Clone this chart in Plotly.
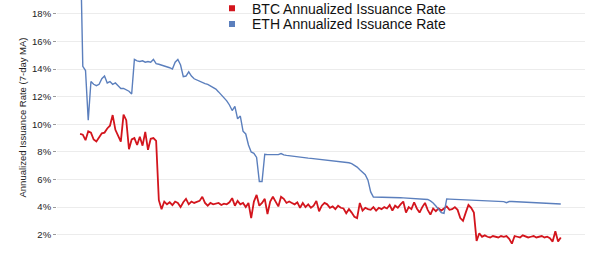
import pandas as pd
import plotly.graph_objects as go

# Data: 7-day MA annualized issuance rate (%), sampled every 12 days from ETH genesis
start_date = "2015-07-30"
n_points = 178
dates = pd.date_range(start_date, periods=n_points, freq="12D")

btc_rate = [
    9.3, 9.25, 8.85, 9.5, 9.4, 8.9, 8.75, 9.1, 9.35, 9.4,
    9.7, 9.9, 10.67, 9.6, 9.2, 8.75, 10.7, 10.3, 8.2, 8.9,
    9.0, 8.5, 9.1, 8.45, 9.45, 8.15, 8.95, 9.0, 8.8, 4.5,
    3.85, 4.4, 4.2, 4.35, 4.15, 4.4, 4.3, 4.0, 4.35, 4.6,
    4.2, 4.4, 4.3, 4.4, 4.45, 4.75, 4.3, 4.1, 4.3, 4.2,
    4.25, 4.3, 4.15, 4.25, 4.2, 4.35, 4.65, 4.1, 4.45, 4.2,
    4.3, 4.0, 4.3, 3.2, 4.4, 4.88, 4.1, 4.3, 4.6, 3.5,
    4.4, 4.75, 4.4, 4.05, 4.75, 4.6, 4.3, 4.4, 4.3, 4.2,
    4.35, 3.95, 4.3, 4.0, 4.2, 3.95, 4.1, 4.45, 3.7, 4.1,
    4.3, 4.2, 3.95, 4.05, 3.85, 4.1, 3.95, 3.9, 3.55, 3.85,
    3.6, 3.3, 3.2, 4.3, 3.75, 3.95, 3.85, 3.8, 4.0, 3.75,
    3.95, 3.85, 4.0, 3.9, 4.15, 3.75, 4.1, 3.95, 4.2, 4.4,
    3.6, 4.0, 3.85, 4.35, 3.9, 3.6, 4.0, 4.3, 3.8, 3.45,
    3.9, 3.7, 3.9, 3.75, 3.9, 4.05, 3.8, 3.85, 4.0, 3.8,
    3.2, 3.0, 3.6, 4.15, 3.95, 3.6, 1.55, 2.1, 1.85, 1.95,
    1.85, 1.8, 1.9, 1.85, 1.8, 1.9, 1.85, 1.9, 1.7, 1.35,
    1.9, 1.85, 1.8, 1.95, 1.85, 1.8, 1.85, 1.9, 1.8, 1.85,
    1.9, 1.8, 1.85, 1.75, 1.5, 2.25, 1.5, 1.8,
]

eth_rate = [
    24.0, 14.2, 13.9, 10.3, 13.1, 12.9, 12.8, 12.9, 13.3, 13.5,
    13.0, 13.1, 12.9, 13.0, 12.8, 12.6, 12.6, 12.5, 12.4, 12.2,
    14.7, 14.6, 14.55, 14.6, 14.5, 14.55, 14.5, 14.7, 14.4, 14.35,
    14.3, 14.2, 14.2, 14.1, 14.0, 14.5, 14.7, 14.3, 13.45, 13.5,
    13.8, 13.5, 13.3, 13.2, 13.15, 13.05, 12.95, 12.9, 12.8, 12.7,
    12.55, 12.35, 12.15, 11.95, 11.7, 11.4, 11.0, 11.3, 10.4, 10.6,
    9.5, 9.3, 8.5, 8.0, 7.9, 7.6, 5.85, 5.85, 7.83, 7.8,
    7.8, 7.8, 7.78, 7.8, 7.88, 7.78, 7.75, 7.72, 7.68, 7.66,
    7.63, 7.61, 7.59, 7.57, 7.55, 7.53, 7.51, 7.49, 7.47, 7.45,
    7.43, 7.41, 7.39, 7.37, 7.35, 7.33, 7.31, 7.28, 7.25, 7.21,
    7.15, 7.05, 6.9, 6.7, 6.55, 6.35, 5.95, 5.1, 4.73, 4.73,
    4.72, 4.72, 4.71, 4.71, 4.70, 4.70, 4.69, 4.68, 4.68, 4.67,
    4.66, 4.65, 4.64, 4.63, 4.62, 4.61, 4.60, 4.58, 4.55, 4.45,
    4.3, 4.08, 3.8, 3.6, 3.55, 4.59, 4.58, 4.57, 4.56, 4.55,
    4.55, 4.54, 4.53, 4.53, 4.52, 4.51, 4.51, 4.50, 4.49, 4.49,
    4.48, 4.47, 4.46, 4.45, 4.44, 4.43, 4.40, 4.32, 4.40, 4.40,
    4.39, 4.38, 4.37, 4.36, 4.35, 4.34, 4.33, 4.32, 4.31, 4.30,
    4.29, 4.28, 4.27, 4.26, 4.25, 4.24, 4.23, 4.22,
]

series_names = ["BTC Annualized Issuance Rate", "ETH Annualized Issuance Rate"]
y_title = "Annualized Issuance Rate (7-day MA)"

BTC_COLOR = "#d3151d"
ETH_COLOR = "#5b7fbd"
FONT = "Liberation Sans, Arial, Helvetica, sans-serif"

fig = go.Figure()
fig.add_trace(go.Scatter(x=dates, y=btc_rate, mode="lines",
                         line=dict(color=BTC_COLOR, width=1.8),
                         showlegend=False, name=series_names[0]))
fig.add_trace(go.Scatter(x=dates, y=eth_rate, mode="lines",
                         line=dict(color=ETH_COLOR, width=1.4),
                         showlegend=False, name=series_names[1]))
# legend entries (square swatches)
fig.add_trace(go.Scatter(x=[None], y=[None], mode="markers",
                         marker=dict(symbol="square", size=6, color=BTC_COLOR),
                         name=series_names[0], legend="legend"))
fig.add_trace(go.Scatter(x=[None], y=[None], mode="markers",
                         marker=dict(symbol="square", size=6, color=ETH_COLOR),
                         name=series_names[1], legend="legend2"))

W, H = 600, 254
L, R = 57, 15
plot_w = W - L - R

def px_to_paper_x(px):
    return (px - L) / plot_w

legend_common = dict(font=dict(family=FONT, size=14, color="#111111"),
                     bgcolor="rgba(0,0,0,0)", borderwidth=0,
                     xanchor="left", yanchor="middle",
                     xref="container", yref="container",
                     itemwidth=30, tracegroupgap=0)

fig.update_layout(
    width=W, height=H,
    margin=dict(l=L, r=R, t=0, b=0, pad=0, autoexpand=False),
    paper_bgcolor="white", plot_bgcolor="white",
    font=dict(family=FONT, size=9.5, color="#222222"),
    legend=dict(x=(252 - 40) / W, y=1 - 8.6 / H, **legend_common),
    legend2=dict(x=(252 - 40) / W, y=1 - 24.4 / H, **legend_common),
    xaxis=dict(range=["2015-04-19", "2021-09-07"], showticklabels=False,
               showgrid=False, zeroline=False, showline=False, ticks=""),
    yaxis=dict(range=[0.60, 19.01], dtick=2, tick0=0, ticksuffix="%",
               showgrid=True, gridcolor="#ececec", gridwidth=1,
               zeroline=False, showline=False,
               ticks="outside", ticklen=3, tickcolor="#9a9a9a",
               tickfont=dict(family=FONT, size=9.5, color="#222222")),
    annotations=[dict(text=y_title, textangle=-90, showarrow=False,
                      xref="paper", yref="paper",
                      x=px_to_paper_x(22), y=1 - 117.5 / H,
                      xanchor="center", yanchor="middle",
                      font=dict(family=FONT, size=9.5, color="#222222"))],
)

fig.write_html("out.html")
